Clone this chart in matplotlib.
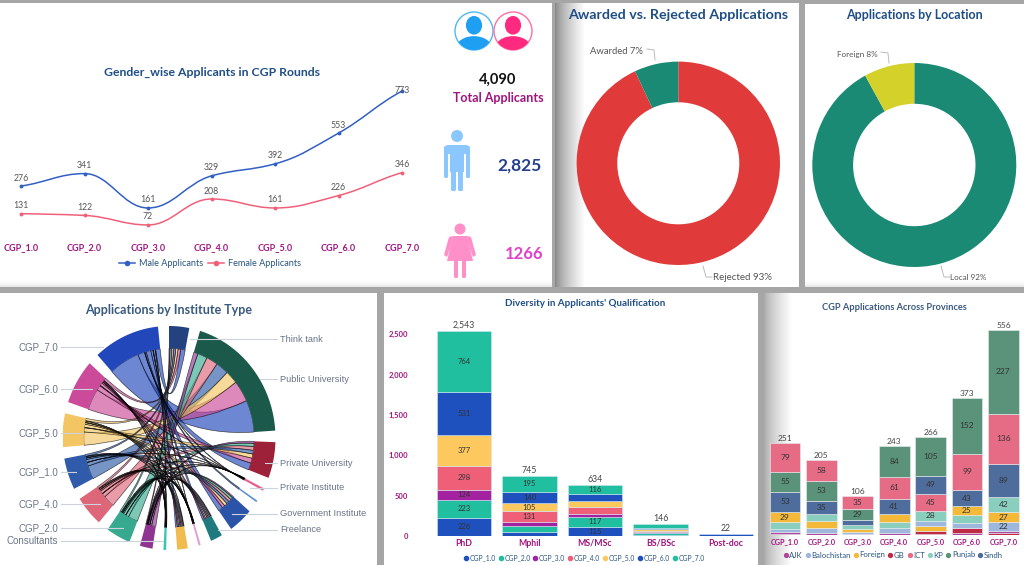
import numpy as np
import matplotlib
matplotlib.use('Agg')
import matplotlib.pyplot as plt
from matplotlib.path import Path
from matplotlib.patches import PathPatch, Rectangle, Circle, Ellipse, FancyBboxPatch, Polygon
from matplotlib.lines import Line2D
from matplotlib.colors import LinearSegmentedColormap, to_rgba

plt.rcParams['font.family'] = ['Lato', 'DejaVu Sans']

W, H = 1024, 565

# gender line chart
rounds = ['CGP_1.0', 'CGP_2.0', 'CGP_3.0', 'CGP_4.0', 'CGP_5.0', 'CGP_6.0', 'CGP_7.0']
male = [276, 341, 161, 329, 392, 553, 773]
female = [131, 122, 72, 208, 161, 226, 346]

# donuts
award_names = ['Rejected', 'Awarded']
award_vals = [93, 7]
loc_names = ['Local', 'Foreign']
loc_vals = [92, 8]

# qualification stack
quals = ['PhD', 'Mphil', 'MS/MSc', 'BS/BSc', 'Post-doc']
qual_cgp1 = [226, 45, 115, 12, 0]
qual_cgp2 = [223, 83, 117, 30, 0]
qual_cgp3 = [124, 46, 41, 6, 0]
qual_cgp4 = [298, 131, 83, 20, 0]
qual_cgp5 = [377, 105, 74, 16, 0]
qual_cgp6 = [531, 140, 88, 20, 22]
qual_cgp7 = [764, 195, 116, 42, 0]
qual_colors = ['#1E50BE', '#20BFA0', '#A3229F', '#F05F78', '#FDC95F', '#1E50BE', '#20BFA0']

# provinces stack, one list per province in round order
provinces = ['AJK', 'Balochistan', 'Foreign', 'GB', 'ICT', 'KP', 'Punjab', 'Sindh']
ajk = [7, 5, 3, 4, 4, 6, 8]
balochistan = [8, 13, 5, 15, 15, 14, 22]
foreign = [29, 20, 7, 20, 12, 25, 27]
gb = [3, 1, 1, 1, 8, 13, 5]
ict = [79, 58, 35, 61, 45, 99, 136]
kp = [17, 20, 13, 17, 28, 21, 42]
punjab = [55, 53, 29, 84, 105, 152, 227]
sindh = [53, 35, 13, 41, 49, 43, 89]
prov_colors = ['#B0479F', '#9DB8DC', '#F5B93A', '#C02A45', '#E66C85', '#8ACFBE', '#5A937A', '#4E6C9C']

# chord diagram, institute rows against rounds in arc order
arc_rounds = ['CGP_3.0', 'CGP_2.0', 'CGP_4.0', 'CGP_1.0', 'CGP_5.0', 'CGP_6.0', 'CGP_7.0']
arc_round_colors = ['#8E3591', '#36A98F', '#DE6679', '#2F5BAA', '#F4C563', '#CB4A99', '#2147BB']
institutes = ['Think tank', 'Public University', 'Private University', 'Private Institute', 'Other',
              'Government Institute', 'Freelance', 'NGO', 'Industry', 'Consultants']
inst_colors = ['#24427F', '#1B5A4A', '#9C2139', '#E8608A', '#5B8BD6', '#2B54A8', '#1F7A7E', '#E39FD1', '#F0BC50', '#35C6B0']
think_tank = [10, 18, 22, 20, 24, 28, 48]
public_uni = [44, 102, 121, 135, 132, 214, 322]
private_uni = [20, 32, 38, 36, 42, 50, 71]
private_inst = [1, 2, 3, 2, 3, 5, 4]
other_inst = [0, 0, 0, 0, 0, 0, 14]
gov_inst = [14, 25, 29, 28, 32, 29, 50]
freelance = [8, 12, 14, 14, 16, 14, 22]
ngo = [1, 2, 3, 3, 3, 2, 4]
industry = [7, 11, 13, 12, 14, 13, 20]
consultants = [2, 3, 3, 3, 3, 3, 5]

title_col = '#1F4E86'
tick_col = '#A0157F'
leg_col = '#2A5580'


def add_ax(x0, y0, x1, y1, **kw):
    return fig.add_axes([x0 / W, 1 - y1 / H, (x1 - x0) / W, (y1 - y0) / H], **kw)


def fig_xy(x, y):
    return (x / W, 1 - y / H)


fig = plt.figure(figsize=(W / 100, H / 100), dpi=100, facecolor='#a6a6a6')

# pixel layer for panels
back = add_ax(0, 0, W, H, zorder=-1)
back.set_xlim(0, W)
back.set_ylim(H, 0)
back.axis('off')
panels = [(0, 3, 552, 287), (555, 3, 799, 287), (805, 4, 1024, 287),
          (0, 293, 377, 565), (384, 293, 758, 565), (764, 293, 1024, 565)]
for x0, y0, x1, y1 in panels:
    back.add_patch(Rectangle((x0, y0), x1 - x0, y1 - y0, fc='white', ec='none'))

# soft shadows inside the panels
grad = np.linspace(0, 1, 64).reshape(1, -1)
vgrad = np.linspace(0, 1, 32).reshape(-1, 1)
for x0, x1, y0, y1, c in [(555, 585, 3, 287, '#858585'), (764, 792, 293, 565, '#a8a8a8')]:
    cmap = LinearSegmentedColormap.from_list('s', [c, '#ffffff'])
    back.imshow(grad ** 0.7, extent=(x0, x1, y1, y0), cmap=cmap, aspect='auto', zorder=2, vmin=0, vmax=1)
shade = LinearSegmentedColormap.from_list('b', ['#ffffff', '#e2e2e2'])
for x0, x1 in [(0, 552), (805, 1024)]:
    back.imshow(vgrad ** 3, extent=(x0, x1, 287, 278), cmap=shade, aspect='auto', zorder=2, vmin=0, vmax=1)
back.set_xlim(0, W)
back.set_ylim(H, 0)

# overlay for text and icons
top = add_ax(0, 0, W, H, zorder=10)
top.set_xlim(0, W)
top.set_ylim(H, 0)
top.axis('off')
top.patch.set_alpha(0)


def txt(x, y, s, **kw):
    kw.setdefault('ha', 'center')
    kw.setdefault('va', 'center')
    top.text(x, y, s, **kw)


# ---- line chart ----
def spline(ax, xs, ys, color):
    # monotone cubic through the points, flat at local peaks
    xs = np.asarray(xs, float)
    ys = np.asarray(ys, float)
    slope = np.diff(ys)
    m = np.zeros(len(ys))
    m[0] = slope[0] * 0.7
    m[-1] = slope[-1] * 0.8
    for i in range(1, len(ys) - 1):
        if slope[i - 1] * slope[i] > 0:
            m[i] = 2 * slope[i - 1] * slope[i] / (slope[i - 1] + slope[i])
    verts = [(xs[0], ys[0])]
    codes = [Path.MOVETO]
    for i in range(len(ys) - 1):
        verts += [(xs[i] + 0.4, ys[i] + m[i] * 0.4), (xs[i + 1] - 0.4, ys[i + 1] - m[i + 1] * 0.4), (xs[i + 1], ys[i + 1])]
        codes += [Path.CURVE4] * 3
    ax.add_patch(PathPatch(Path(verts, codes), fc='none', ec=color, lw=1.1))


line_ax = add_ax(0, 85, 440, 238.7)
line_ax.set_xlim(-21 / 63.5, 419 / 63.5)
line_ax.set_ylim(0, 805)
xpos = np.arange(len(rounds))
for vals, col in [(male, '#3160C4'), (female, '#F0607A')]:
    spline(line_ax, xpos, vals, col)
    line_ax.plot(xpos, vals, 'o', color=col, ms=2.8, mew=0)
    for x, v in zip(xpos, vals):
        # the top label sits right on its point in the reference
        off = -3 if v == max(male) else 2.5
        line_ax.annotate(str(v), (x, v), xytext=(0, off), textcoords='offset points', ha='center', va='bottom', fontsize=6.3, color='#555555')
line_ax.set_xticks(xpos)
line_ax.set_xticklabels(rounds, color=tick_col, fontsize=6.5, fontweight='bold')
line_ax.tick_params(axis='x', length=0, pad=3)
line_ax.set_yticks([])
for s in line_ax.spines.values():
    s.set_visible(False)
line_ax.patch.set_alpha(0)
handles = [Line2D([], [], color='#3160C4', marker='o', ms=3, lw=1.1), Line2D([], [], color='#F0607A', marker='o', ms=3, lw=1.1)]
fig.legend(handles, ['Male Applicants', 'Female Applicants'], loc='center', bbox_to_anchor=fig_xy(210, 264), ncol=2, frameon=False,
           fontsize=6.6, labelcolor=leg_col, handlelength=1.7, columnspacing=0.6, handletextpad=0.4)
txt(212, 72, 'Gender_wise Applicants in CGP Rounds', color=title_col, fontsize=8.8, fontweight='bold')

# totals on the right of the line chart
txt(498, 80, '4,090', color='#111111', fontsize=10.5, fontweight='bold')
txt(498, 98, 'Total Applicants', color=tick_col, fontsize=9, fontweight='bold')
txt(520, 166, '2,825', color='#233F8E', fontsize=12.5, fontweight='bold')
txt(524, 254, '1266', color='#E040C8', fontsize=12, fontweight='bold')


def bust(cx, cy, r, ring, fill):
    edge = Circle((cx, cy), r, fc='white', ec=ring, lw=1)
    top.add_patch(edge)
    head = Ellipse((cx, cy - r * 0.3), r * 0.85, r * 0.98, fc=fill, ec='none')
    top.add_patch(head)
    body = Ellipse((cx, cy + r * 0.92), r * 1.9, r * 1.3, fc=fill, ec='none')
    top.add_patch(body)
    body.set_clip_path(edge)


bust(474, 31, 19, '#4FB8F0', '#1E9FF2')
bust(513, 31, 19, '#FF6F9F', '#FF2A7F')

# man icon
man = '#8CC6FF'
top.add_patch(Circle((457, 136), 6, fc=man, ec='none'))
top.add_patch(FancyBboxPatch((445, 145), 24, 9, boxstyle='round,pad=0,rounding_size=3', fc=man, ec='none'))
top.add_patch(FancyBboxPatch((444, 146), 4, 32, boxstyle='round,pad=0,rounding_size=1.5', fc=man, ec='none'))
top.add_patch(FancyBboxPatch((466, 146), 4, 32, boxstyle='round,pad=0,rounding_size=1.5', fc=man, ec='none'))
top.add_patch(Rectangle((450, 148), 14, 24, fc=man, ec='none'))
top.add_patch(FancyBboxPatch((451, 170), 5, 21, boxstyle='round,pad=0,rounding_size=1.5', fc=man, ec='none'))
top.add_patch(FancyBboxPatch((458, 170), 5, 21, boxstyle='round,pad=0,rounding_size=1.5', fc=man, ec='none'))
# woman icon
wom = '#FF8FC8'
top.add_patch(Circle((460, 229), 5.5, fc=wom, ec='none'))
top.add_patch(Polygon([(453, 236), (467, 236), (473, 261), (447, 261)], fc=wom, ec='none'))
top.add_patch(Polygon([(453, 236), (449, 237), (444, 255), (447, 257), (452, 243)], fc=wom, ec='none'))
top.add_patch(Polygon([(467, 236), (471, 237), (476, 255), (473, 257), (468, 243)], fc=wom, ec='none'))
top.add_patch(FancyBboxPatch((454, 258), 4, 20, boxstyle='round,pad=0,rounding_size=1.5', fc=wom, ec='none'))
top.add_patch(FancyBboxPatch((462, 258), 4, 20, boxstyle='round,pad=0,rounding_size=1.5', fc=wom, ec='none'))


# ---- donuts ----
def donut(cx, cy, r, vals, colors):
    ax = add_ax(cx - r, cy - r, cx + r, cy + r)
    ax.pie(vals, colors=colors, startangle=90, counterclock=False, radius=1, wedgeprops={'width': 0.4, 'linewidth': 0})
    ax.set_xlim(-1, 1)
    ax.set_ylim(-1, 1)


donut(678.3, 163.3, 101.7, award_vals, ['#E03A3A', '#1A8A74'])
donut(914.3, 165, 102, loc_vals, ['#1A8A74', '#D4D12B'])
txt(678, 15, 'Awarded vs. Rejected Applications', color=title_col, fontsize=10.3, fontweight='bold')
txt(914, 15, 'Applications by Location', color=title_col, fontsize=9, fontweight='bold')
txt(643, 51, f'{award_names[1]} {award_vals[1]}%', ha='right', color='#555555', fontsize=6.8)
txt(713, 277, f'{award_names[0]} {award_vals[0]}%', ha='left', color='#555555', fontsize=7)
txt(878, 54, f'{loc_names[1]} {loc_vals[1]}%', ha='right', color='#555555', fontsize=5.9)
txt(950, 277, f'{loc_names[0]} {loc_vals[0]}%', ha='left', color='#555555', fontsize=5.8)
for xs, ys in [([647, 654, 655], [49, 50, 60]), ([703, 706, 712], [266, 277, 277]),
               ([881, 888, 889], [52, 53, 63]), ([941, 944, 950], [266, 277, 277])]:
    top.plot(xs, ys, color='#BBBBBB', lw=0.7)

# ---- chord diagram ----
chord = add_ax(169 - 106.5, 438 - 112, 169 + 106.5, 438 + 112)
chord.set_xlim(-1, 1)
chord.set_ylim(-1, 1)
chord.axis('off')
matrix = np.array([think_tank, public_uni, private_uni, private_inst, other_inst, gov_inst, freelance, ngo, industry, consultants])
n_seg = len(institutes) + len(arc_rounds)
gap = 5.95
unit = (360 - n_seg * gap) / (matrix.sum() * 2)


def arc_pts(a0, a1, r):
    t = np.radians(np.linspace(a0, a1, 24))
    return np.column_stack([r * np.cos(t), r * np.sin(t)])


def band(a0, a1, color):
    pts = np.vstack([arc_pts(a0, a1, 1.0), arc_pts(a1, a0, 0.8)])
    chord.add_patch(Polygon(pts, fc=color, ec='none', zorder=5))


# angles run clockwise from the top
angle = 90.0
inst_start = []
for i, name in enumerate(institutes):
    span = matrix[i].sum() * unit
    inst_start.append(angle)
    band(angle, angle - span, inst_colors[i])
    angle -= span + gap
round_start = []
for j, name in enumerate(arc_rounds):
    span = matrix[:, j].sum() * unit
    round_start.append(angle)
    band(angle, angle - span, arc_round_colors[j])
    angle -= span + gap

# hand out each ribbon's slice along both arcs
ribbons = []
order = [1, 2, 3, 4, 5, 6, 7, 8, 9, 0]
inst_pos = {}
for i in range(len(institutes)):
    pos = inst_start[i]
    for j in range(len(arc_rounds)):
        inst_pos[(i, j)] = pos
        pos -= matrix[i, j] * unit
for j in range(len(arc_rounds)):
    pos = round_start[j]
    for i in order:
        ribbons.append((matrix[i, j], i, j, pos, inst_pos[(i, j)]))
        pos -= matrix[i, j] * unit

for v, i, j, ra, ia in sorted(ribbons, key=lambda r: -r[0]):
    if v == 0:
        continue
    w = v * unit
    p1 = arc_pts(ra, ra - w, 0.8)
    p2 = arc_pts(ia, ia - w, 0.8)
    verts = list(p1) + [(0, 0), tuple(p2[0])] + list(p2[1:]) + [(0, 0), tuple(p1[0])]
    codes = [Path.MOVETO] + [Path.LINETO] * (len(p1) - 1) + [Path.CURVE3, Path.CURVE3] + [Path.LINETO] * (len(p2) - 1) + [Path.CURVE3, Path.CURVE3]
    chord.add_patch(PathPatch(Path(verts, codes), fc=to_rgba(arc_round_colors[j], 0.65), ec=(0, 0, 0, 0.65), lw=0.5, zorder=3))

lab_col = '#6B7488'
lead_col = '#CDD3DE'
left_labels = [('CGP_7.0', 347, 103), ('CGP_6.0', 389, 92), ('CGP_5.0', 433, 82), ('CGP_1.0', 472, 76),
               ('CGP_4.0', 504, 100), ('CGP_2.0', 528, 123), ('Consultants', 541, 163)]
right_labels = [('Think tank', 339, 190), ('Public University', 379, 260), ('Private University', 463, 265),
                ('Private Institute', 488, 250), ('Government Institute', 514, 232), ('Freelance', 530, 218)]
for name, y, xe in left_labels:
    top.plot([61, xe], [y, y], color=lead_col, lw=0.8)
    txt(58, y, name, ha='right', family='Liberation Sans', color=lab_col, fontsize=7)
for name, y, xe in right_labels:
    top.plot([xe, 277], [y, y], color=lead_col, lw=0.8)
    txt(280, y, name, ha='left', family='Liberation Sans', color=lab_col, fontsize=6.7)
txt(169, 310, 'Applications by Institute Type', color='#3A5A80', fontsize=9, fontweight='bold')

# ---- qualification bars ----
q_ax = add_ax(411, 325, 755, 536)
q_ax.set_xlim(-53 / 65.5, 291 / 65.5)
q_ax.set_ylim(0, 211 / 0.0807)
q_series = [qual_cgp1, qual_cgp2, qual_cgp3, qual_cgp4, qual_cgp5, qual_cgp6, qual_cgp7]
bottom = np.zeros(len(quals))
qx = np.arange(len(quals))
for k, vals in enumerate(q_series):
    for x, v, b in zip(qx, vals, bottom):
        if v == 0:
            continue
        q_ax.bar(x, v, bottom=b, width=0.83, color=qual_colors[k], edgecolor='#CFE6F5', linewidth=0.4)
        if v >= 100:
            q_ax.text(x, b + v / 2, str(v), ha='center', va='center', fontsize=5.5, color='#333333')
    bottom += np.array(vals)
for x, t in zip(qx, bottom):
    q_ax.text(x, t + 12, f'{int(t):,}', ha='center', va='bottom', fontsize=6.3, color='#444444')
q_ax.set_xticks(qx)
q_ax.set_xticklabels(quals, color=tick_col, fontsize=6.3, fontweight='bold')
q_ax.set_yticks([0, 500, 1000, 1500, 2000, 2500])
q_ax.set_yticklabels(['0', '500', '1,000', '1,500', '2,000', '2,500'], color=tick_col, fontsize=5.5, fontweight='bold')
q_ax.tick_params(length=0, pad=2)
for s in q_ax.spines.values():
    s.set_visible(False)
q_ax.patch.set_alpha(0)
handles = [Line2D([], [], color=c, marker='o', ms=3, ls='none') for c in qual_colors]
fig.legend(handles, rounds, loc='center', bbox_to_anchor=fig_xy(584, 558), ncol=7, frameon=False, fontsize=4.9,
           labelcolor=leg_col, handlelength=0.7, handletextpad=0.2, columnspacing=0.35, borderpad=0)
txt(585, 303, "Diversity in Applicants' Qualification", color=title_col, fontsize=7.1, fontweight='bold')

# ---- province bars ----
p_ax = add_ax(766, 325, 1024, 535.3)
p_ax.set_xlim(-19 / 36.4, 239 / 36.4)
p_ax.set_ylim(0, 210.3 / 0.3692)
p_table = np.array([ajk, balochistan, foreign, gb, ict, kp, punjab, sindh])
px_ = np.arange(len(rounds))
for j in px_:
    base = 0
    # every bar stacks its own values from small to large
    for idx in np.argsort(p_table[:, j], kind='stable'):
        v = p_table[idx, j]
        p_ax.bar(j, v, bottom=base, width=0.85, color=prov_colors[idx], edgecolor='#E8EEF2', linewidth=0.4)
        if v >= 22:
            p_ax.text(j, base + v / 2, str(v), ha='center', va='center', fontsize=6, color='#333333')
        base += v
    p_ax.text(j, base + 2, str(base), ha='center', va='bottom', fontsize=6, color='#444444')
p_ax.set_xticks(px_)
p_ax.set_xticklabels(rounds, color=tick_col, fontsize=5.2, fontweight='bold')
p_ax.set_yticks([])
p_ax.tick_params(length=0, pad=2)
for s in p_ax.spines.values():
    s.set_visible(False)
p_ax.patch.set_alpha(0)
handles = [Line2D([], [], color=c, marker='o', ms=2.8, ls='none') for c in prov_colors]
fig.legend(handles, provinces, loc='center', bbox_to_anchor=fig_xy(893, 555), ncol=8, frameon=False, fontsize=5.6,
           labelcolor=leg_col, handlelength=0.6, handletextpad=0.15, columnspacing=0.35, borderpad=0)
txt(894, 307, 'CGP Applications Across Provinces', color='#3A5A80', fontsize=6.7, fontweight='bold')

fig.savefig('out.png', dpi=100, facecolor=fig.get_facecolor())
